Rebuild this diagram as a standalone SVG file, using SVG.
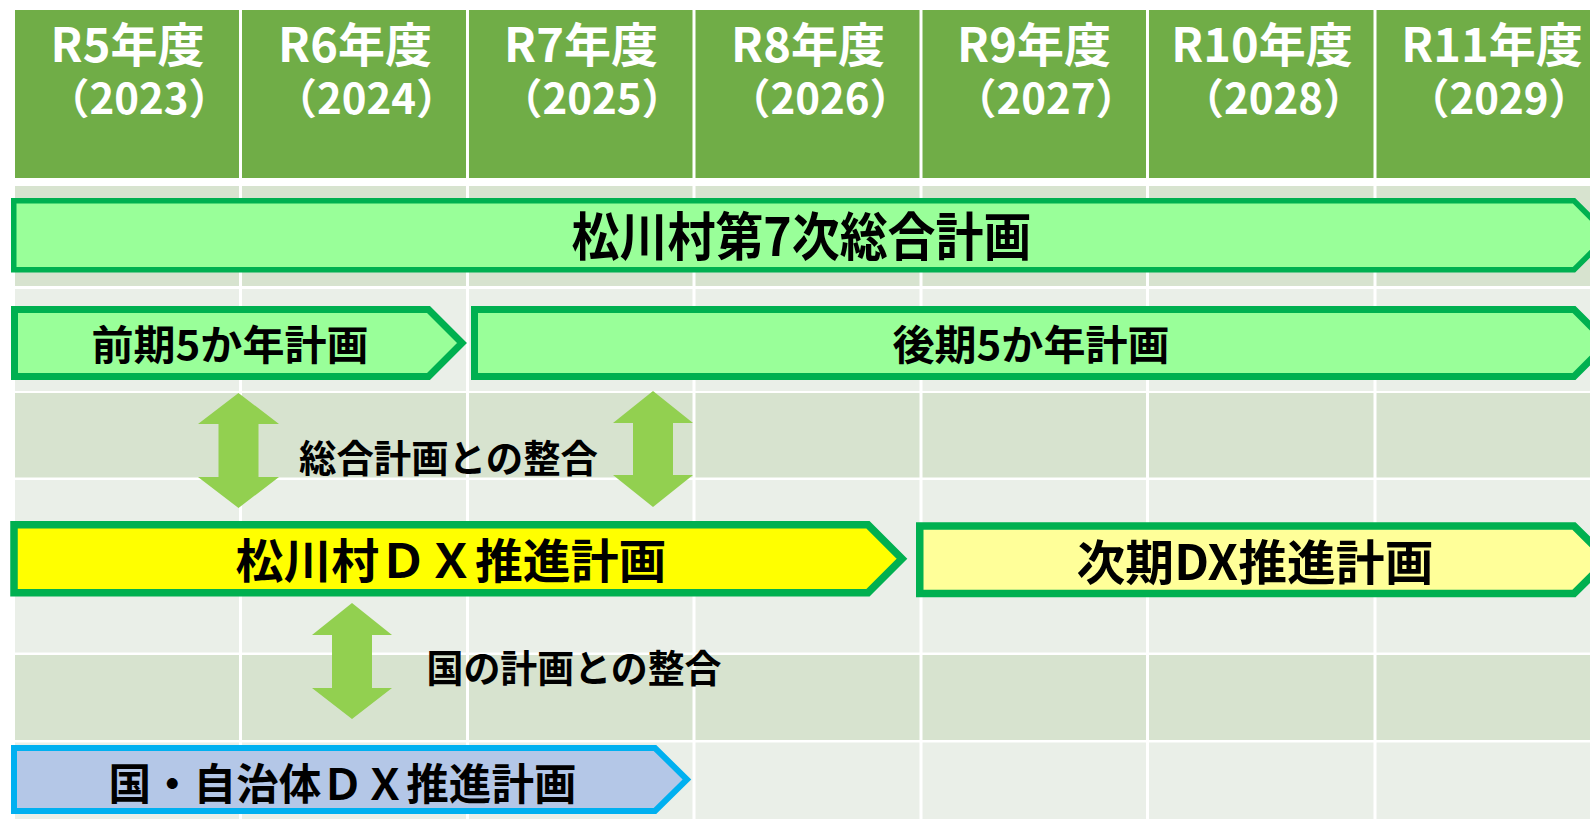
<svg xmlns="http://www.w3.org/2000/svg" width="1590" height="819" viewBox="0 0 1590 819">
<style>
.hdr{fill:#70AD47}
.dk{fill:#D7E3CF}
.lt{fill:#EAEFE8}
.vl{stroke:#FFFFFF;stroke-width:3}
.ht{font-family:"Noto Sans CJK JP","Noto Sans",sans-serif;font-weight:700;fill:#FFFFFF;text-anchor:middle}
.h1{font-size:47px}
.h2{font-size:42px}
.plan{stroke:#00B050;stroke-linejoin:miter}
.lg{fill:#99FF99}
.yl{fill:#FFFF00}
.ly{fill:#FFFF99}
.bl{fill:#B4C7E7;stroke:#00B0F0;stroke-width:6}
.lbl{font-family:"Noto Sans CJK JP","Noto Sans",sans-serif;font-weight:700;fill:#000000;text-anchor:middle;dominant-baseline:central}
.arr{fill:#92D050}
</style>
<rect x="0" y="0" width="1590" height="819" fill="#FFFFFF"/>
<g id="grid">
<rect class="hdr" x="15" y="10" width="1575" height="168"/>
<rect class="dk" x="15" y="186" width="1575" height="100"/>
<rect class="lt" x="15" y="289" width="1575" height="102"/>
<rect class="dk" x="15" y="393" width="1575" height="84.5"/>
<rect class="lt" x="15" y="480" width="1575" height="172.5"/>
<rect class="dk" x="15" y="655" width="1575" height="85"/>
<rect class="lt" x="15" y="742.5" width="1575" height="77"/>
<line class="vl" x1="240.5" y1="10" x2="240.5" y2="819"/>
<line class="vl" x1="467.5" y1="10" x2="467.5" y2="819"/>
<line class="vl" x1="694" y1="10" x2="694" y2="819"/>
<line class="vl" x1="921" y1="10" x2="921" y2="819"/>
<line class="vl" x1="1147.5" y1="10" x2="1147.5" y2="819"/>
<line class="vl" x1="1375" y1="10" x2="1375" y2="819"/>
</g>
<g id="header">
<text class="ht h1" x="127.5" y="62">R5年度</text>
<text class="ht h2" x="139" y="114">（2023）</text>
<text class="ht h1" x="355" y="62">R6年度</text>
<text class="ht h2" x="366.5" y="114">（2024）</text>
<text class="ht h1" x="581" y="62">R7年度</text>
<text class="ht h2" x="592" y="114">（2025）</text>
<text class="ht h1" x="808" y="62">R8年度</text>
<text class="ht h2" x="820" y="114">（2026）</text>
<text class="ht h1" x="1034" y="62">R9年度</text>
<text class="ht h2" x="1046" y="114">（2027）</text>
<text class="ht h1" x="1262" y="62">R10年度</text>
<text class="ht h2" x="1273.5" y="114">（2028）</text>
<text class="ht h1" x="1492" y="62">R11年度</text>
<text class="ht h2" x="1499" y="114">（2029）</text>
</g>
<g id="plan-sogo">
<polygon class="plan lg" stroke-width="5.5" points="13.75,200.75 1574,200.75 1608.5,235.25 1574,269.75 13.75,269.75"/>
<text class="lbl" x="801.5" y="233.5" font-size="52" textLength="460" lengthAdjust="spacingAndGlyphs">松川村第7次総合計画</text>
</g>
<g id="plan-zenki">
<polygon class="plan lg" stroke-width="7" points="14.5,309.5 428.5,309.5 462,343 428.5,376.5 14.5,376.5"/>
<text class="lbl" x="230" y="341.5" font-size="41" textLength="277" lengthAdjust="spacingAndGlyphs">前期5か年計画</text>
</g>
<g id="plan-kouki">
<polygon class="plan lg" stroke-width="7" points="474.5,309.5 1574,309.5 1607.5,343 1574,376.5 474.5,376.5"/>
<text class="lbl" x="1031" y="341.5" font-size="41" textLength="277" lengthAdjust="spacingAndGlyphs">後期5か年計画</text>
</g>
<g id="label-sogo">
<text class="lbl" x="448.5" y="455" font-size="38" textLength="299" lengthAdjust="spacingAndGlyphs">総合計画との整合</text>
</g>
<g id="plan-dx">
<polygon class="plan yl" stroke-width="7.5" points="14,524.75 868,524.75 902,558.75 868,592.75 14,592.75"/>
<text class="lbl" x="451" y="557" font-size="47" textLength="431" lengthAdjust="spacingAndGlyphs">松川村ＤＸ推進計画</text>
</g>
<g id="plan-jiki">
<polygon class="plan ly" stroke-width="7.5" points="919.75,526 1574,526 1608,559.75 1574,593.5 919.75,593.5"/>
<text class="lbl" x="1255" y="558.5" font-size="48" textLength="357" lengthAdjust="spacingAndGlyphs">次期DX推進計画</text>
</g>
<g id="label-kuni">
<text class="lbl" x="574" y="665" font-size="38" textLength="295" lengthAdjust="spacingAndGlyphs">国の計画との整合</text>
</g>
<g id="plan-kuni">
<polygon class="bl" points="14,748 655,748 687,779.5 655,811 14,811"/>
<text class="lbl" x="342.5" y="781" font-size="43" textLength="468" lengthAdjust="spacingAndGlyphs">国・自治体ＤＸ推進計画</text>
</g>
<g id="connectors">
<polygon class="arr" points="238.5,393 279,424 258.5,424 258.5,477 279,477 238.5,508 198,477 218.5,477 218.5,424 198,424"/>
<polygon class="arr" points="653,391 693,423 673,423 673,475 693,475 653,507 613,475 633,475 633,423 613,423"/>
<polygon class="arr" points="352,603 392,635 372,635 372,688 392,688 352,719 312,688 332,688 332,635 312,635"/>
</g>
</svg>
